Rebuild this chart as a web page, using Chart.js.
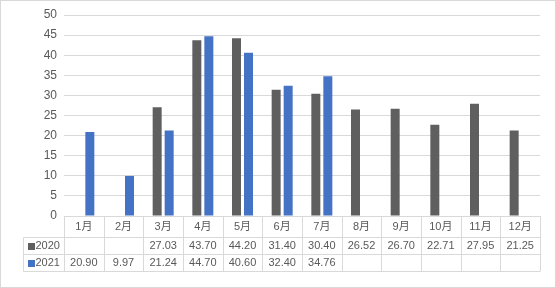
<!DOCTYPE html>
<html>
<head>
    <meta charset="UTF-8">
    <title>2020 / 2021</title>
    <script src="https://cdn.jsdelivr.net/npm/chart.js@4/dist/chart.umd.min.js"></script>
    <style>
        body { margin: 0; background: #fff; }
        #wrap { width: 556px; height: 288px; }
    </style>
</head>
<body>
    <div id="wrap"><canvas id="chart"></canvas></div>
    <script>
        const months = ['1月', '2月', '3月', '4月', '5月', '6月', '7月', '8月', '9月', '10月', '11月', '12月'];
        const values2020 = [null, null, 27.03, 43.70, 44.20, 31.40, 30.40, 26.52, 26.70, 22.71, 27.95, 21.25];
        const values2021 = [20.90, 9.97, 21.24, 44.70, 40.60, 32.40, 34.76, null, null, null, null, null];
        const yTicks = [0, 5, 10, 15, 20, 25, 30, 35, 40, 45, 50];

        const textColor = '#595959';
        const lineColor = '#d9d9d9';
        const font = '11px "Liberation Sans", "Noto Sans CJK SC", sans-serif';

        // draws the Excel-like data table under the plot, plus the outer frame
        const dataTable = {
            id: 'dataTable',
            afterDraw(chart) {
                const ctx = chart.ctx;
                const x = chart.scales.x;
                const area = chart.chartArea;
                const step = (area.right - area.left) / months.length;
                const rows = [area.bottom, area.bottom + 20.5, area.bottom + 37.5, area.bottom + 55];
                const legendLeft = 23.5;

                ctx.save();
                ctx.strokeStyle = lineColor;
                ctx.lineWidth = 1;
                ctx.beginPath();
                // horizontal lines
                ctx.moveTo(area.left, Math.round(rows[0]) + 0.5);
                ctx.lineTo(area.right, Math.round(rows[0]) + 0.5);
                for (let r = 1; r < rows.length; r++) {
                    ctx.moveTo(legendLeft, Math.round(rows[r]) + 0.5);
                    ctx.lineTo(area.right, Math.round(rows[r]) + 0.5);
                }
                // vertical lines
                for (let i = 0; i <= months.length; i++) {
                    const px = Math.round(area.left + i * step) + 0.5;
                    ctx.moveTo(px, rows[0]);
                    ctx.lineTo(px, rows[3] + 0.5);
                }
                ctx.moveTo(legendLeft, Math.round(rows[1]) + 0.5);
                ctx.lineTo(legendLeft, Math.round(rows[3]) + 0.5);
                ctx.stroke();

                // outer frame
                ctx.strokeRect(0.5, 0.5, chart.width - 1, chart.height - 1);

                ctx.font = font;
                ctx.fillStyle = textColor;
                ctx.textAlign = 'center';
                ctx.textBaseline = 'middle';
                const fmt = v => v == null ? '' : v.toFixed(2);
                months.forEach((m, i) => {
                    const cx = x.getPixelForValue(i);
                    ctx.fillText(m, cx, (rows[0] + rows[1]) / 2 + 1);
                    ctx.fillText(fmt(values2020[i]), cx, (rows[1] + rows[2]) / 2 + 1);
                    ctx.fillText(fmt(values2021[i]), cx, (rows[2] + rows[3]) / 2 + 1);
                });

                // legend keys
                chart.data.datasets.forEach((ds, d) => {
                    const cy = (rows[d + 1] + rows[d + 2]) / 2 + 1;
                    ctx.fillStyle = ds.backgroundColor;
                    ctx.fillRect(28, Math.round(cy - 3.5), 7, 7);
                    ctx.fillStyle = textColor;
                    ctx.textAlign = 'left';
                    ctx.fillText(ds.label, 35.5, cy);
                });
                ctx.restore();
            }
        };

        new Chart(document.getElementById('chart'), {
            type: 'bar',
            data: {
                labels: months,
                datasets: [
                    { label: '2020', data: values2020, backgroundColor: '#5f5f5f' },
                    { label: '2021', data: values2021, backgroundColor: '#4472c4' }
                ]
            },
            options: {
                responsive: true,
                maintainAspectRatio: false,
                animation: false,
                datasets: {
                    bar: { categoryPercentage: 0.605, barPercentage: 0.75 }
                },
                layout: { padding: { top: 15, right: 16, bottom: 72, left: 0 } },
                plugins: {
                    legend: { display: false },
                    tooltip: { enabled: false }
                },
                scales: {
                    x: { display: false },
                    y: {
                        min: 0,
                        max: 50,
                        afterFit(s) { s.width = 64; },
                        afterBuildTicks(s) { s.ticks = yTicks.map(v => ({ value: v })); },
                        border: { display: false },
                        grid: { color: lineColor, drawTicks: false },
                        ticks: {
                            padding: 7,
                            color: textColor,
                            font: { family: '"Liberation Sans", sans-serif', size: 12 }
                        }
                    }
                }
            },
            plugins: [dataTable]
        });
    </script>
</body>
</html>
